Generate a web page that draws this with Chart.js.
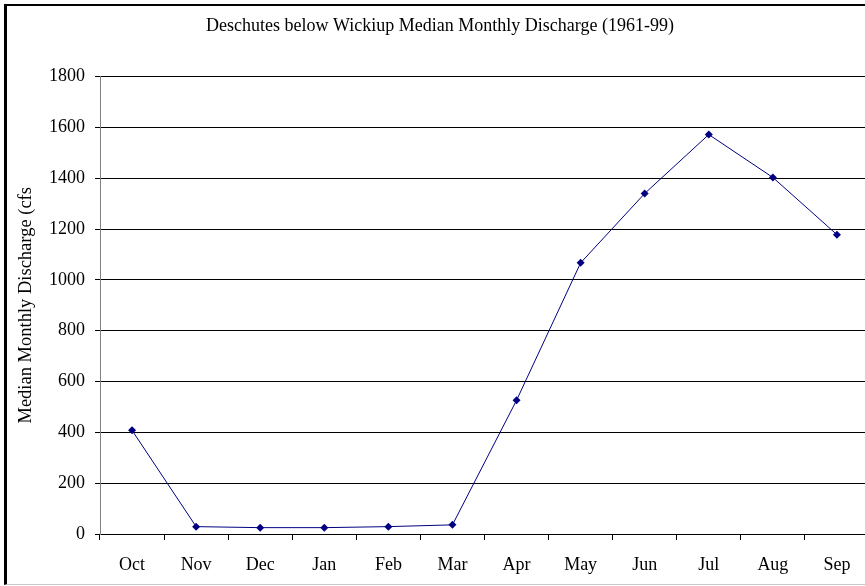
<!DOCTYPE html>
<html lang="en-US">
  <head>
    <meta charset="utf-8" />
    <title>Deschutes below Wickiup</title>
    <script src="https://cdn.jsdelivr.net/npm/chart.js@4.4.0/dist/chart.umd.min.js"></script>
  </head>
  <body>
    <div class="frame"></div>
    <div class="wrap">
      <canvas id="chart" width="880" height="586"></canvas>
    </div>
  </body>

  <style>
    html, body{
      margin: 0;
      padding: 0;
      background: #fff;
      overflow: hidden;
    }
    .wrap{
      position: absolute;
      left: 0;
      top: 0;
      width: 865px;
      height: 586px;
      overflow: hidden;
    }
    #chart{
      width: 880px;
      height: 586px;
    }
    .frame{
      position: absolute;
      left: 4px;
      top: 4px;
      width: 870px;
      height: 578px;
      border-left: 3px solid #000;
      border-top: 2px solid #000;
      border-bottom: 1px solid #c8c8c8;
    }
  </style>

  <script>
    // chart values
    const months = ["Oct", "Nov", "Dec", "Jan", "Feb", "Mar", "Apr", "May", "Jun", "Jul", "Aug", "Sep"];
    const discharge = [408, 29, 25, 25, 29, 36, 526, 1067, 1340, 1572, 1403, 1178];
    const yTicks = [0, 200, 400, 600, 800, 1000, 1200, 1400, 1600, 1800];

    const chartTitle = "Deschutes below Wickiup Median Monthly Discharge (1961-99)";
    const yTitle = "Median Monthly Discharge (cfs";

    const serif = "'Liberation Serif', 'Times New Roman', serif";

    new Chart(document.getElementById("chart"), {
      type: "line",
      data: {
        labels: months,
        datasets: [
          {
            data: discharge,
            borderColor: "#000080",
            backgroundColor: "#000080",
            borderWidth: 1,
            pointStyle: "rectRot",
            pointRadius: 4,
            pointBorderWidth: 0,
            tension: 0,
          },
        ],
      },
      options: {
        responsive: false,
        animation: false,
        // equal side padding keeps the title centred on the page
        layout: { padding: { left: 11, right: 11, top: 0, bottom: 0 } },
        plugins: {
          legend: { display: false },
          tooltip: { enabled: false },
          title: {
            display: true,
            text: chartTitle,
            color: "#000",
            font: { family: serif, size: 18, weight: "normal" },
            padding: { top: 15, bottom: 40 },
          },
        },
        scales: {
          x: {
            type: "category",
            offset: true,
            grid: {
              offset: true,
              drawOnChartArea: false,
              drawTicks: true,
              tickLength: 6,
              color: "#000",
            },
            border: { color: "#000", width: 1 },
            ticks: {
              color: "#000",
              padding: 14,
              maxRotation: 0,
              autoSkip: false,
              font: { family: serif, size: 18 },
            },
            afterFit: (scale) => { scale.height = 52; },
          },
          y: {
            min: 0,
            max: 1800,
            afterBuildTicks: (scale) => { scale.ticks = yTicks.map((v) => ({ value: v })); },
            grid: {
              color: "#000",
              lineWidth: 1,
              tickLength: 5,
              drawTicks: true,
            },
            border: { color: "#808080", width: 1 },
            ticks: {
              color: "#000",
              padding: 10,
              font: { family: serif, size: 18 },
              callback: (v) => String(v),
            },
            title: {
              display: true,
              text: yTitle,
              color: "#000",
              font: { family: serif, size: 18.5 },
              padding: { top: 4, bottom: 0 },
            },
            afterFit: (scale) => { scale.width = 89; },
          },
        },
      },
    });
  </script>
</html>
